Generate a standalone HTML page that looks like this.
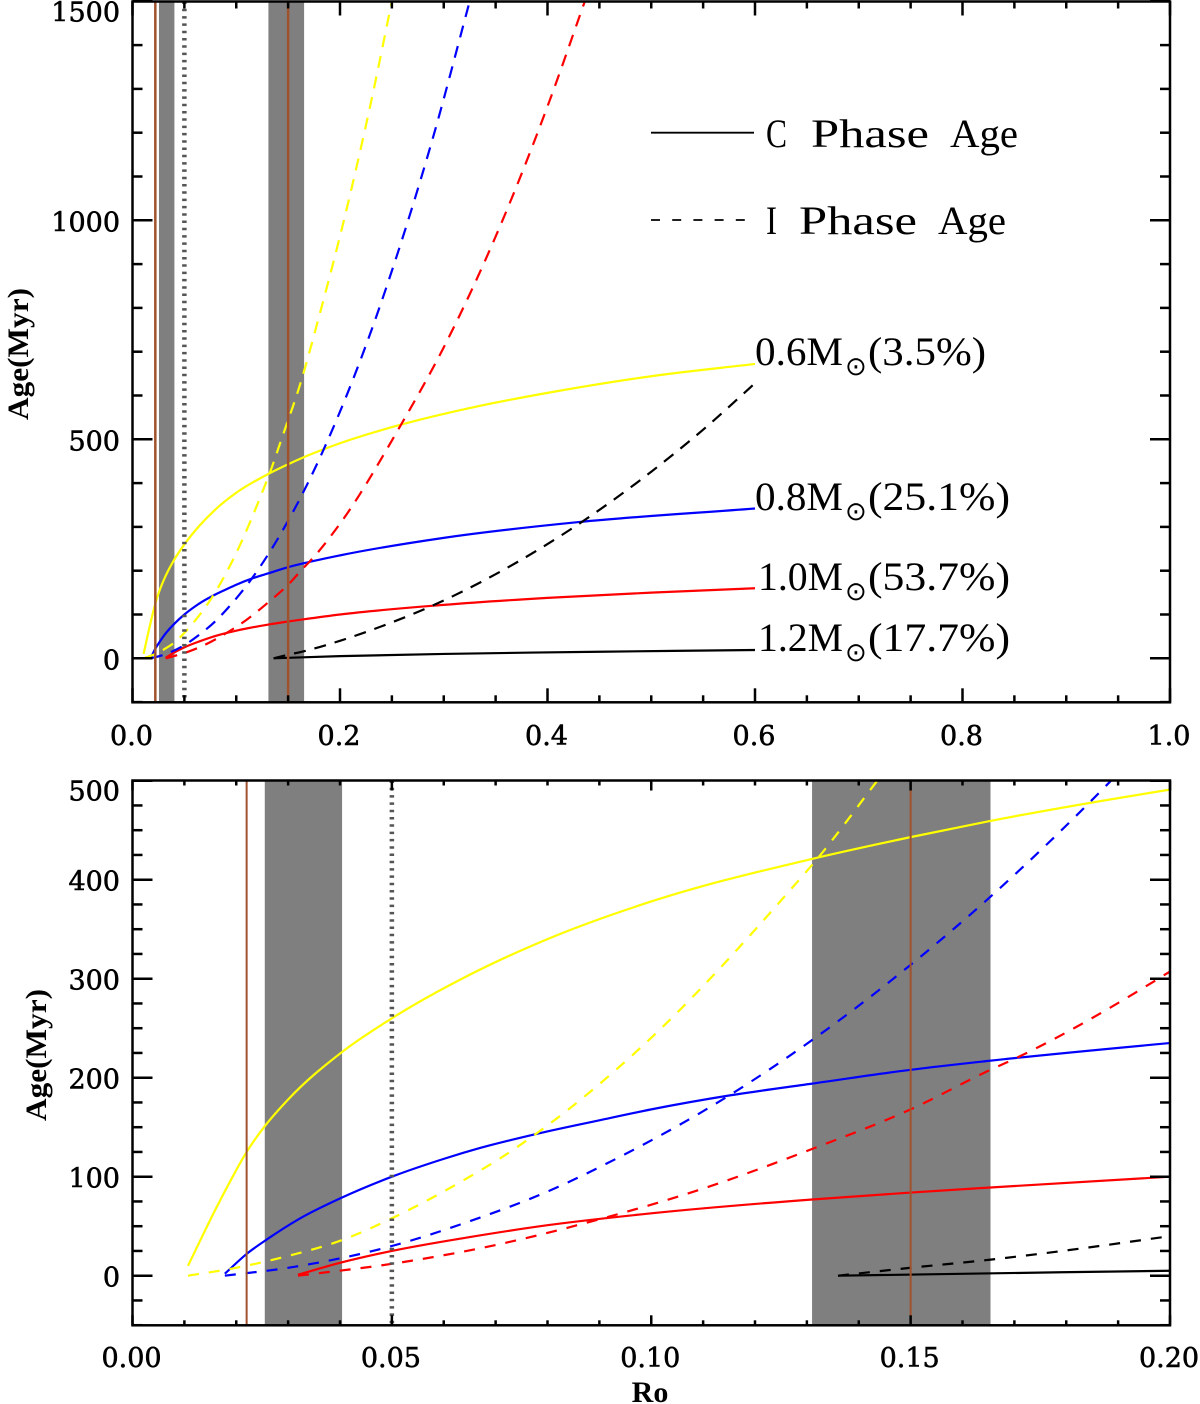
<!DOCTYPE html>
<html lang="en">
<head>
<meta charset="utf-8">
<title>Age versus Rossby number</title>
<style>
html,body{margin:0;padding:0;background:#fff;}
svg{display:block;}
.tick-label{font-family:"DejaVu Serif","Liberation Serif",serif;font-size:27px;fill:#000;stroke:#000;stroke-width:0.55px;}
.axis-title{font-family:"Liberation Serif",serif;font-weight:bold;font-size:30px;fill:#000;}
.note{font-family:"Liberation Serif",serif;font-size:40px;fill:#000;}
.sun{font-family:"DejaVu Sans",sans-serif;font-size:26px;fill:#000;}
.legend-text{font-family:"Liberation Serif",serif;font-size:40px;fill:#000;}
</style>
</head>
<body>
<svg id="figure" xmlns="http://www.w3.org/2000/svg" width="1200" height="1404" viewBox="0 0 1200 1404">
  <defs>
    <clipPath id="clip-top"><rect x="132.5" y="1.5" width="1037.5" height="701"/></clipPath>
    <clipPath id="clip-bottom"><rect x="132.5" y="780.5" width="1037.5" height="545"/></clipPath>
  </defs>
  <g id="panel-top"></g>
  <g id="panel-bottom"></g>

  <text class="axis-title" transform="translate(28,354) rotate(-90)" text-anchor="middle" textLength="132" lengthAdjust="spacingAndGlyphs">Age(Myr)</text>
  <text class="axis-title" transform="translate(46,1055) rotate(-90)" text-anchor="middle" textLength="132" lengthAdjust="spacingAndGlyphs">Age(Myr)</text>
  <text class="axis-title" x="650" y="1402" text-anchor="middle">Ro</text>

  <g>
    <line x1="651" x2="754" y1="132.7" y2="132.7" stroke="#000" stroke-width="1.8"/>
    <g>
      <text class="legend-text" x="766" y="147" textLength="21" lengthAdjust="spacingAndGlyphs">C</text>
      <text class="legend-text" x="811" y="147" textLength="118" lengthAdjust="spacingAndGlyphs">Phase</text>
      <text class="legend-text" x="950" y="147" textLength="68" lengthAdjust="spacingAndGlyphs">Age</text>
    </g>
    <line x1="651" x2="745" y1="220" y2="220" stroke="#000" stroke-width="1.8" stroke-dasharray="9 12.2"/>
    <g>
      <text class="legend-text" x="766" y="234" textLength="11" lengthAdjust="spacingAndGlyphs">I</text>
      <text class="legend-text" x="799" y="234" textLength="118" lengthAdjust="spacingAndGlyphs">Phase</text>
      <text class="legend-text" x="938" y="234" textLength="68" lengthAdjust="spacingAndGlyphs">Age</text>
    </g>
  </g>

  <g>
    <text class="note" x="755" y="365" textLength="88" lengthAdjust="spacingAndGlyphs">0.6M</text>
    <text class="sun" x="845" y="375">⊙</text>
    <text class="note" x="868" y="365" textLength="118" lengthAdjust="spacingAndGlyphs">(3.5%)</text>
  </g>
  <g>
    <text class="note" x="755" y="510" textLength="88" lengthAdjust="spacingAndGlyphs">0.8M</text>
    <text class="sun" x="845" y="520">⊙</text>
    <text class="note" x="868" y="510" textLength="142" lengthAdjust="spacingAndGlyphs">(25.1%)</text>
  </g>
  <g>
    <text class="note" x="758" y="590" textLength="85" lengthAdjust="spacingAndGlyphs">1.0M</text>
    <text class="sun" x="845" y="600">⊙</text>
    <text class="note" x="868" y="590" textLength="142" lengthAdjust="spacingAndGlyphs">(53.7%)</text>
  </g>
  <g>
    <text class="note" x="758" y="651" textLength="85" lengthAdjust="spacingAndGlyphs">1.2M</text>
    <text class="sun" x="845" y="661">⊙</text>
    <text class="note" x="868" y="651" textLength="142" lengthAdjust="spacingAndGlyphs">(17.7%)</text>
  </g>
</svg>
<script>
// Shared data: Rossby number and age (Myr)
var cYellowRo  = [0.0107,0.013,0.016,0.019,0.022,0.0255,0.03,0.0404,0.05,0.065,0.08,0.1,0.131,0.15,0.165,0.2,0.258,0.33,0.4,0.5,0.6];
var cYellowAge = [10,35,67,97,125,151,178,226,260,304,340,378,421,443,459,491,533,574,606,644,672];
var cBlueRo  = [0.0178,0.022,0.026,0.032,0.0404,0.05,0.06,0.067,0.0785,0.09,0.1,0.115,0.131,0.15,0.165,0.2,0.3,0.43,0.6];
var cBlueAge = [2,22,37,57,79,100,118,129,144,157,168,182,194,208,217,235,275,311,342];
var cRedRo  = [0.0319,0.04,0.05,0.065,0.08,0.1,0.131,0.15,0.165,0.2,0.3,0.4,0.5,0.6];
var cRedAge = [1,13,25,39,51,63,77,84,89,100,122,138,150,160];
var cBlackRo  = [0.136,0.2,0.3,0.45,0.6];
var cBlackAge = [0,5,10,15,19];
var iYellowRo  = [0.0107,0.02,0.03,0.0404,0.05,0.065,0.0704,0.0785,0.0985,0.1277,0.1315,0.144,0.1615,0.18,0.205,0.23,0.25];
var iYellowAge = [0,8,20,36,58,100,117,146,233,395,418,503,625,782,1012,1271,1500];
var iBlueRo  = [0.0178,0.03,0.05,0.065,0.08,0.0943,0.115,0.131,0.15,0.165,0.1875,0.205,0.23,0.256,0.29,0.325];
var iBlueAge = [0,8,30,55,85,121,182,238,314,381,494,592,747,928,1192,1500];
var iRedRo  = [0.0319,0.05,0.07,0.09,0.11,0.131,0.15,0.165,0.17,0.199,0.258,0.3,0.354,0.4,0.436];
var iRedAge = [0,12,31,57,88,128,168,207,219,304,530,710,985,1260,1500];
var iBlackRo  = [0.136,0.15,0.165,0.2,0.25,0.287,0.35,0.436,0.5,0.55,0.6];
var iBlackAge = [0,8,16,40,82,118,192,316,426,522,628];

var bandEdges = [[0.0255,0.0404],[0.131,0.1654]];
var brownLineRo = [0.022,0.15];
var dottedLineRo = [0.05];

var topXTickLabels = ['0.0','0.2','0.4','0.6','0.8','1.0'];
var topYTickLabels = ['0','500','1000','1500'];
var bottomXTickLabels = ['0.00','0.05','0.10','0.15','0.20'];
var bottomYTickLabels = ['0','100','200','300','400','500'];

var NS = 'http://www.w3.org/2000/svg';

function mk(parent, tag, attrs) {
  var el = document.createElementNS(NS, tag);
  for (var k in attrs) el.setAttribute(k, attrs[k]);
  parent.appendChild(el);
  return el;
}

// Smooth path through data points (finite-difference tangents)
function curvePath(pts) {
  var n = pts.length, t = [], i, h0, h1, s0, s1;
  for (i = 1; i < n - 1; i++) {
    h0 = pts[i][0] - pts[i - 1][0];
    h1 = pts[i + 1][0] - pts[i][0];
    s0 = (pts[i][1] - pts[i - 1][1]) / h0;
    s1 = (pts[i + 1][1] - pts[i][1]) / h1;
    t[i] = (s0 * h1 + s1 * h0) / (h0 + h1);
  }
  t[0] = (pts[1][1] - pts[0][1]) / (pts[1][0] - pts[0][0]);
  t[n - 1] = (pts[n - 1][1] - pts[n - 2][1]) / (pts[n - 1][0] - pts[n - 2][0]);
  var d = 'M' + pts[0][0].toFixed(2) + ' ' + pts[0][1].toFixed(2);
  for (i = 0; i < n - 1; i++) {
    var dx = pts[i + 1][0] - pts[i][0];
    d += 'C' + (pts[i][0] + dx / 3).toFixed(2) + ' ' + (pts[i][1] + t[i] * dx / 3).toFixed(2) + ' ' +
         (pts[i + 1][0] - dx / 3).toFixed(2) + ' ' + (pts[i + 1][1] - t[i + 1] * dx / 3).toFixed(2) + ' ' +
         pts[i + 1][0].toFixed(2) + ' ' + pts[i + 1][1].toFixed(2);
  }
  return d;
}

function drawPanel(cfg) {
  var g = document.getElementById(cfg.id);
  var sx = function (v) { return cfg.left + (v - cfg.xMin) / (cfg.xMax - cfg.xMin) * (cfg.right - cfg.left); };
  var sy = function (v) { return cfg.y0 - (v - 0) * cfg.yScale; };
  var plot = mk(g, 'g', {'clip-path': 'url(#' + cfg.clip + ')'});

  bandEdges.forEach(function (b) {
    var r = mk(plot, 'rect', {x: sx(b[0]), y: cfg.top, width: sx(b[1]) - sx(b[0]), height: cfg.bottom - cfg.top, fill: '#7f7f7f'});
    
    
  });

  var series = [
    ['c-phase-yellow', cYellowRo, cYellowAge, '#ffff00', false],
    ['c-phase-blue', cBlueRo, cBlueAge, '#0000ff', false],
    ['c-phase-red', cRedRo, cRedAge, '#ff0000', false],
    ['c-phase-black', cBlackRo, cBlackAge, '#000000', false],
    ['i-phase-yellow', iYellowRo, iYellowAge, '#ffff00', true],
    ['i-phase-blue', iBlueRo, iBlueAge, '#0000ff', true],
    ['i-phase-red', iRedRo, iRedAge, '#ff0000', true],
    ['i-phase-black', iBlackRo, iBlackAge, '#000000', true]
  ];
  series.forEach(function (s) {
    var pts = s[1].map(function (ro, i) { return [sx(ro), sy(s[2][i])]; });
    var p = mk(plot, 'path', {d: curvePath(pts), fill: 'none', stroke: s[3], 'stroke-width': 2.2});
    if (s[4]) p.setAttribute('stroke-dasharray', cfg.dash);
    
    
  });

  brownLineRo.forEach(function (ro) {
    var l = mk(plot, 'line', {x1: sx(ro), x2: sx(ro), y1: cfg.top, y2: cfg.bottom, stroke: '#a0522d', 'stroke-width': cfg.brownWidth});
    
    
  });
  dottedLineRo.forEach(function (ro) {
    var l = mk(plot, 'line', {x1: sx(ro), x2: sx(ro), y1: cfg.top, y2: cfg.bottom, stroke: '#555', 'stroke-width': 4.5, 'stroke-dasharray': '2.5 4.8'});
    
    
  });

  var axes = mk(g, 'g', {stroke: '#000', 'stroke-width': 2.5, fill: 'none'});
  
  
  mk(axes, 'rect', {x: cfg.left, y: cfg.top, width: cfg.right - cfg.left, height: cfg.bottom - cfg.top});

  var i, v, x, y, len;
  for (i = 0; i <= cfg.xMinorCount; i++) {
    v = cfg.xMin + i * cfg.xMinorStep;
    x = sx(v);
    len = i % cfg.xMajorEvery === 0 ? cfg.xMajorLen : cfg.xMinorLen;
    mk(axes, 'line', {x1: x, x2: x, y1: cfg.bottom, y2: cfg.bottom - len});
    mk(axes, 'line', {x1: x, x2: x, y1: cfg.top, y2: cfg.top + len});
  }
  for (i = 0; ; i++) {
    v = cfg.yMin + i * cfg.yMinorStep;
    if (v > cfg.yMax) break;
    y = sy(v);
    len = v % cfg.yMajorStep === 0 ? 20 : 10;
    mk(axes, 'line', {x1: cfg.left, x2: cfg.left + len, y1: y, y2: y});
    mk(axes, 'line', {x1: cfg.right, x2: cfg.right - len, y1: y, y2: y});
  }

  cfg.xLabels.forEach(function (s) {
    var t = mk(g, 'text', {'class': 'tick-label', x: sx(parseFloat(s)) - 1, y: cfg.xLabelY, 'text-anchor': 'middle'});
    t.textContent = s;
    
    
  });
  cfg.yLabels.forEach(function (s) {
    var yy = Math.max(sy(parseFloat(s)) + 11, cfg.top + 20);
    var t = mk(g, 'text', {'class': 'tick-label', x: 120, y: yy, 'text-anchor': 'end'});
    t.textContent = s;
    
    
  });
}

drawPanel({
  id: 'panel-top', clip: 'clip-top', left: 132.5, right: 1170, top: 1.5, bottom: 702.3,
  xMin: 0, xMax: 1, yMin: -100, yMax: 1500, y0: 658.3, yScale: 0.438,
  xMinorStep: 0.05, xMinorCount: 20, xMajorEvery: 4, xMajorLen: 14, xMinorLen: 7,
  yMinorStep: 100, yMajorStep: 500, brownWidth: 2.5, dash: '12 9',
  xLabels: topXTickLabels, yLabels: topYTickLabels, xLabelY: 745
});
drawPanel({
  id: 'panel-bottom', clip: 'clip-bottom', left: 132.5, right: 1170, top: 780.5, bottom: 1325.3,
  xMin: 0, xMax: 0.2, yMin: -50, yMax: 500, y0: 1275.7, yScale: 0.99,
  xMinorStep: 0.01, xMinorCount: 20, xMajorEvery: 5, xMajorLen: 10, xMinorLen: 5,
  yMinorStep: 25, yMajorStep: 100, brownWidth: 2, dash: '11 10',
  xLabels: bottomXTickLabels, yLabels: bottomYTickLabels, xLabelY: 1367
});
</script>
</body>
</html>
